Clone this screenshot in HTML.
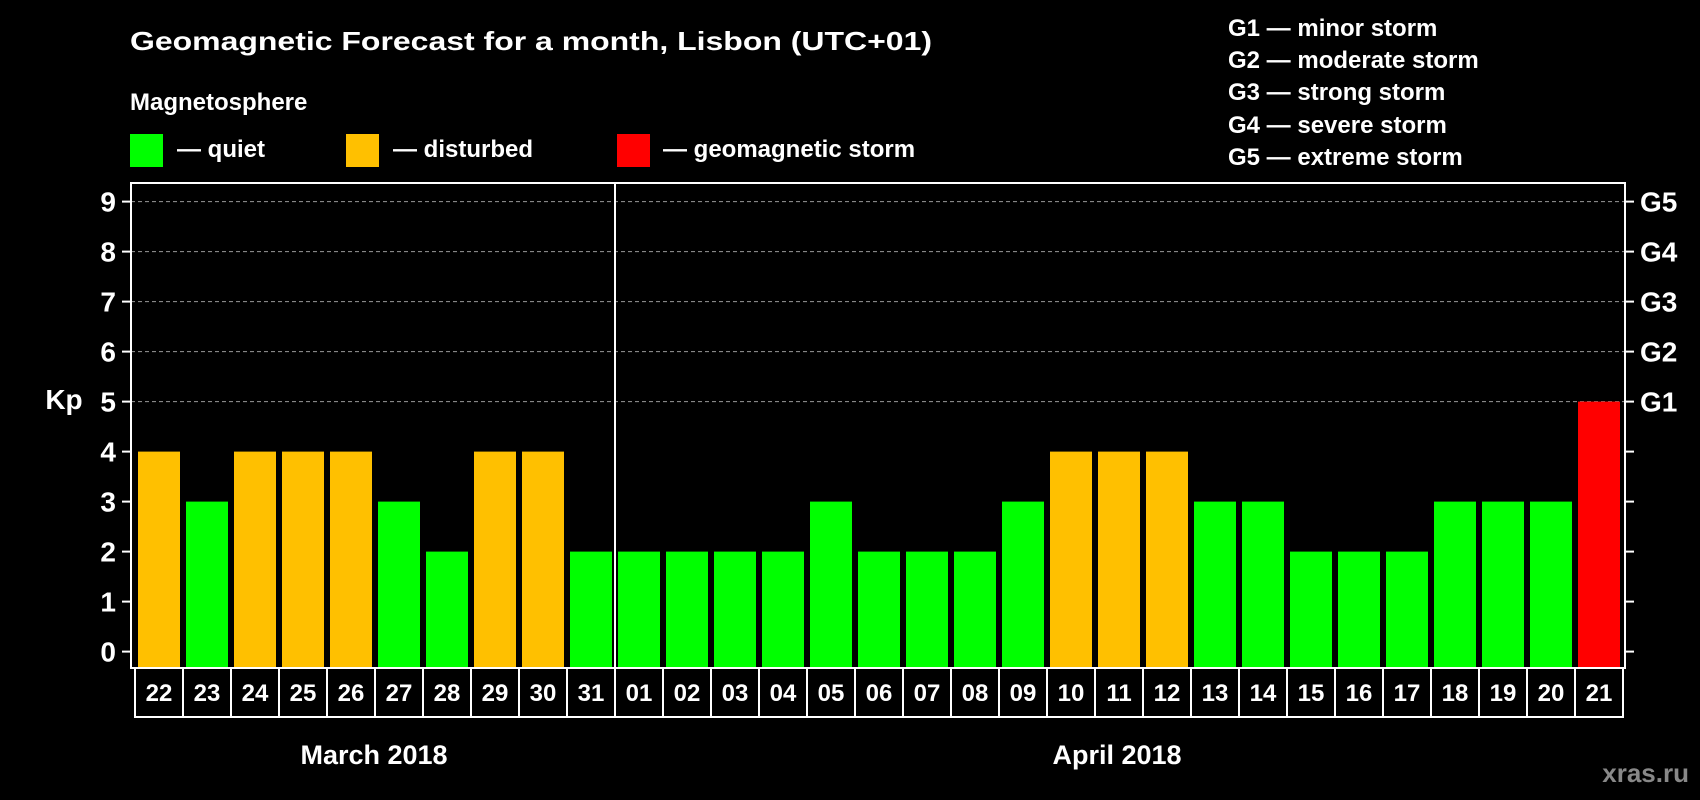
<!DOCTYPE html>
<html><head><meta charset="utf-8"><style>
html,body{margin:0;padding:0;background:#000;}
svg{display:block;font-family:"Liberation Sans",Arial,sans-serif;font-weight:bold;}
</style></head><body>
<svg id="chart" width="1700" height="800" viewBox="0 0 1700 800">
<rect x="0" y="0" width="1700" height="800" fill="#000"/>
<text x="130" y="50" fill="#fff" font-size="26" textLength="802" lengthAdjust="spacingAndGlyphs">Geomagnetic Forecast for a month, Lisbon (UTC+01)</text>
<text x="130" y="110" fill="#fff" font-size="24">Magnetosphere</text>
<g>
<rect x="130" y="134" width="33" height="33" fill="#00ff00"/>
<text x="177" y="157" fill="#fff" font-size="24">— quiet</text></g>
<g>
<rect x="346" y="134" width="33" height="33" fill="#ffc000"/>
<text x="393" y="157" fill="#fff" font-size="24">— disturbed</text></g>
<g>
<rect x="617" y="134" width="33" height="33" fill="#ff0000"/>
<text x="663" y="157" fill="#fff" font-size="24">— geomagnetic storm</text></g>
<g font-size="24" fill="#fff">
<text x="1228" y="36">G1 — minor storm</text>
<text x="1228" y="68">G2 — moderate storm</text>
<text x="1228" y="100">G3 — strong storm</text>
<text x="1228" y="133">G4 — severe storm</text>
<text x="1228" y="165">G5 — extreme storm</text>
</g>
<text x="64" y="409" fill="#fff" font-size="28" text-anchor="middle">Kp</text>
<g id="grid"></g>
<g id="bars"></g>
<g id="axes"></g>
<text x="374" y="764" fill="#fff" font-size="27" text-anchor="middle">March 2018</text>
<text x="1117" y="764" fill="#fff" font-size="27" text-anchor="middle">April 2018</text>
<text x="1689" y="782" fill="#888" font-size="26" text-anchor="end">xras.ru</text>
</svg>
<script>
const days = ["22","23","24","25","26","27","28","29","30","31","01","02","03","04","05","06","07","08","09","10","11","12","13","14","15","16","17","18","19","20","21"];
const kpValues = [4,3,4,4,4,3,2,4,4,2,2,2,2,2,3,2,2,2,3,4,4,4,3,3,2,2,2,3,3,3,5];
const yTicks = [0,1,2,3,4,5,6,7,8,9];
const gLabels = ["G1","G2","G3","G4","G5"];
const gLevels = [5,6,7,8,9];
const monthSplitIndex = 10;

const NS = "http://www.w3.org/2000/svg";
const L = 131, R = 1625, T = 183, B = 668, Y0 = 651.6, UNIT = 50;
const STEP = 48, X0 = 135, BW = 42;
function y(v){ return Y0 - v*UNIT; }
function x(i){ return X0 + STEP*i; }
function mk(tag, attrs, parent){ const e = document.createElementNS(NS, tag); for (const k in attrs) e.setAttribute(k, attrs[k]); parent.appendChild(e); return e; }
function color(v){ return v >= 5 ? "#ff0000" : (v >= 4 ? "#ffc000" : "#00ff00"); }

const grid = document.getElementById("grid");
gLevels.forEach(v => {
  const l = mk("line", {x1:L, x2:R, y1:y(v), y2:y(v), stroke:"#999", "stroke-width":1, "stroke-dasharray":"4,3"}, grid);
  
  
});

const bars = document.getElementById("bars");
kpValues.forEach((v, i) => {
  const r = mk("rect", {x:x(i)+3, y:y(v), width:BW, height:B - y(v), fill:color(v)}, bars);
  
  
});

const axes = document.getElementById("axes");
const frame = mk("rect", {x:L, y:T, width:R-L, height:B-T, fill:"none", stroke:"#fff", "stroke-width":2}, axes);


const sep = mk("line", {x1:x(monthSplitIndex), x2:x(monthSplitIndex), y1:T, y2:B, stroke:"#fff", "stroke-width":2}, axes);


yTicks.forEach(v => {
  const t = mk("line", {x1:L-9, x2:L, y1:y(v), y2:y(v), stroke:"#fff", "stroke-width":2}, axes);
  
  
  const t2 = mk("line", {x1:R, x2:R+9, y1:y(v), y2:y(v), stroke:"#fff", "stroke-width":2}, axes);
  
  
  const lb = mk("text", {x:116, y:y(v)+10, fill:"#fff", "font-size":28, "text-anchor":"end"}, axes);
  lb.textContent = v;
  
  
});
gLabels.forEach((g, i) => {
  const lb = mk("text", {x:1640, y:y(gLevels[i])+10, fill:"#fff", "font-size":28}, axes);
  lb.textContent = g;
  
  
});
days.forEach((d, i) => {
  const bx = mk("rect", {x:x(i), y:B, width:STEP, height:49, fill:"#000", stroke:"#fff", "stroke-width":2}, axes);
  
  
  const tx = mk("text", {x:x(i)+STEP/2, y:B+33, fill:"#fff", "font-size":24, "text-anchor":"middle"}, axes);
  tx.textContent = d;
  
  
});
</script>
</body></html>
